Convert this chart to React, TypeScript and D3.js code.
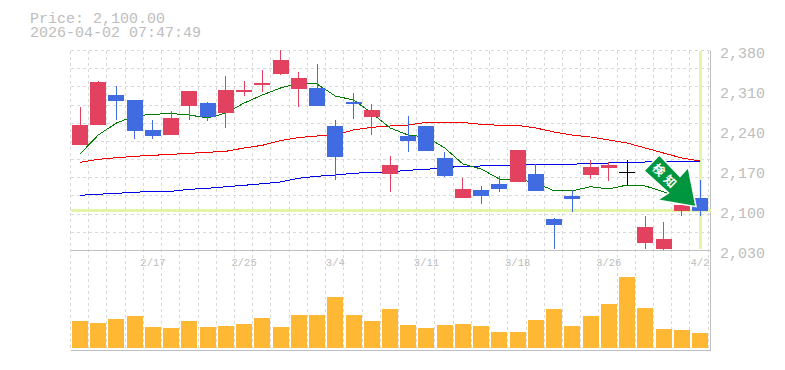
import React from "react";
import * as d3 from "d3";

const priceTicks = [2380, 2310, 2240, 2170, 2100, 2030];
const dateLabels: [number, string][] = [[4, "2/17"], [9, "2/25"], [14, "3/4"], [19, "3/11"], [24, "3/18"], [29, "3/26"], [34, "4/2"]];

const opens = [2214.6, 2249.6, 2302.1, 2293.4, 2240.9, 2232.1, 2282.9, 2288.1, 2270.6, 2307.4, 2319.6, 2338.9, 2312.6, 2314.4, 2247.9, 2289.9, 2263.6, 2163.9, 2230.4, 2247.9, 2191.9, 2121.9, 2135.9, 2146.4, 2149.9, 2163.9, 2085.1, 2125.4, 2162.1, 2174.4, 2167, 2043.1, 2032.6, 2099.1, 2121.9];
const closes = [2249.6, 2324.9, 2291.6, 2239.1, 2230.4, 2261.9, 2309.1, 2263.6, 2310.9, 2310.9, 2323.1, 2363.4, 2331.9, 2282.9, 2194.2, 2286.4, 2275.9, 2179.6, 2221.6, 2204.1, 2160.4, 2137.6, 2125.4, 2137.6, 2205.9, 2134.1, 2074.6, 2120.1, 2176.1, 2179.6, 2167, 2071.1, 2050.1, 2109.6, 2099.1];
const highs = [2281.1, 2326.6, 2317.9, 2293.4, 2258.4, 2274.1, 2309.1, 2289.9, 2335.4, 2326.6, 2345.9, 2380.9, 2342.4, 2356.4, 2258.4, 2305.6, 2286.4, 2195.4, 2265.4, 2247.9, 2202.4, 2156.9, 2142.9, 2160.4, 2205.9, 2181.4, 2086.9, 2135.9, 2188.4, 2184.9, 2188.4, 2090.4, 2079.9, 2109.6, 2153.4];
const lows = [2214.6, 2249.6, 2258.4, 2225.1, 2225.1, 2232.1, 2258.4, 2257.5, 2244.4, 2300.4, 2307.4, 2337.1, 2281.6, 2282.9, 2153.4, 2260.1, 2232.1, 2132.4, 2202.9, 2204.1, 2158.6, 2121.9, 2111.4, 2132.4, 2149.9, 2134.1, 2032.6, 2097.4, 2155.1, 2151.6, 2144.6, 2032.6, 2030.9, 2090.9, 2090.9];

const ma5 = [2198.9, 2232.1, 2253.1, 2265.4, 2268.3, 2269.8, 2267.1, 2261.9, 2270.6, 2288.1, 2302.1, 2314.4, 2323.1, 2321.4, 2300.4, 2293.4, 2270.6, 2244.4, 2232.1, 2228.6, 2209.4, 2181.4, 2172.6, 2155.1, 2155.1, 2148.1, 2134.6, 2134.6, 2141.6, 2137.6, 2144.6, 2142.9, 2132.9, 2118.4, 2107.9];
const ma25 = [2184.4, 2189.6, 2192.4, 2194.8, 2196.6, 2198.3, 2200.1, 2201.9, 2203.6, 2209.4, 2214.1, 2222.2, 2227.8, 2230.4, 2232.1, 2240.9, 2245.6, 2247.9, 2249.6, 2254.4, 2254.4, 2254, 2250.9, 2249.1, 2249.1, 2244.4, 2237.4, 2232.1, 2228.6, 2223.4, 2218.1, 2209.4, 2200.6, 2191.9, 2186.6];
const ma75 = [2126.6, 2128.4, 2130.1, 2131.9, 2133.6, 2133.6, 2137.1, 2138.9, 2141.6, 2144.1, 2146.9, 2149.9, 2156.4, 2159.9, 2162.1, 2165.1, 2166.9, 2167.4, 2170.4, 2172.1, 2174.9, 2177.4, 2177.9, 2177.9, 2180.2, 2180.9, 2180.9, 2180.9, 2182.6, 2183.1, 2183.6, 2184.9, 2184.9, 2185.8, 2186.6];
const volumes = [27, 25, 29, 32, 21, 20, 27, 21, 22, 24, 30, 21, 33, 33, 51, 33, 27, 39, 23, 20, 23, 24, 22, 16, 16, 28, 39, 22, 32, 44, 71, 40, 19, 18, 15];
const lastPrice = 2100;

const COLORS = { up: "#e2425f", down: "#416be0", doji: "#000", grid: "#d9d9d9", axis: "#c0c0c0", text: "#bdbdbd", band: "#e3f5a6", vol: "#ffb833" };
const MONO = "'Liberation Mono', monospace";

const L = 70.5, R = 710.5, TOP = 50.5, MID = 250.5, BOT = 350.5;
const x = d3.scaleLinear().domain([0, 34]).range([80, 700]);
const y = d3.scaleLinear().domain([2030, 2380]).range([MID, TOP]);
const v = d3.scaleLinear().domain([0, 71]).range([348, 277]);
const line = d3.line<number>().x((_, i) => x(i)).y((d) => y(d));
const vGrid = d3.range(36).map((i) => L + i * 18.22);
const hGrid = d3.range(11).map((i) => TOP + i * (200 / 11));
const bw = 16;

export default function App() {
  return (
    <svg width={785} height={370} style={{ position: "absolute", left: 0, top: 0, background: "#fff" }}>
      <g fontFamily={MONO} fontSize={15} fill={COLORS.text}>
        <text x={30} y={23}>Price: 2,100.00</text>
        <text x={30} y={37}>2026-04-02 07:47:49</text>
      </g>
      <g shapeRendering="crispEdges">
        {hGrid.map((g, i) => (
          <line key={i} x1={L} x2={R} y1={g} y2={g} stroke={COLORS.grid} strokeDasharray="3 3" />
        ))}
        {vGrid.map((g, i) => (
          <line key={i} x1={g} x2={g} y1={TOP} y2={BOT} stroke={COLORS.grid} strokeDasharray="3 3" />
        ))}
        <line x1={L} x2={R} y1={MID} y2={MID} stroke={COLORS.axis} />
        <line x1={L} x2={R} y1={BOT} y2={BOT} stroke={COLORS.axis} />
        <line x1={R} x2={R} y1={TOP} y2={BOT} stroke={COLORS.axis} />
        <rect x={L} y={y(lastPrice) - 1.5} width={R - L} height={3} fill={COLORS.band} />
        <rect x={x(34) - 1} y={TOP} width={3} height={MID - TOP - 2} fill={COLORS.band} />
        <path d={line(ma75) ?? ""} fill="none" stroke="#0000e6" strokeWidth={1} />
        <path d={line(ma25) ?? ""} fill="none" stroke="#f00000" strokeWidth={1} />
        <path d={line(ma5) ?? ""} fill="none" stroke="#007a00" strokeWidth={1} />
        {opens.map((o, i) => {
          const c = closes[i];
          const col = c > o ? COLORS.up : c < o ? COLORS.down : COLORS.doji;
          const top = y(Math.max(o, c));
          const h = Math.abs(y(o) - y(c));
          return (
            <g key={i}>
              <line x1={x(i)} x2={x(i)} y1={y(highs[i])} y2={y(lows[i])} stroke={col} strokeWidth={1} />
              <rect x={x(i) - bw / 2} y={top} width={bw} height={Math.max(h, 1)} fill={col} />
            </g>
          );
        })}
        {volumes.map((d, i) => (
          <rect key={i} x={x(i) - bw / 2} y={v(d)} width={bw} height={v(0) - v(d)} fill={COLORS.vol} />
        ))}
      </g>
      <g fontFamily={MONO} fontSize={15} fill={COLORS.text}>
        {priceTicks.map((t) => (
          <text key={t} x={720} y={y(t) + 7}>{d3.format(",")(t)}</text>
        ))}
      </g>
      <g fontFamily={MONO} fontSize={10.5} fill={COLORS.text} textAnchor="middle">
        {dateLabels.map(([i, s]) => (
          <text key={s} x={x(i)} y={266}>{s}</text>
        ))}
      </g>
      <g>
        <path d="M659.3 155 L644 170.7 L668.5 193 L657.3 200 L696 206.7 L688.3 167.3 L680 176.5 Z" fill="#009640" stroke="#fff" strokeWidth={1.5} />
        <text transform="translate(666 177) rotate(45)" textAnchor="middle" fontFamily="'Noto Sans CJK JP'" fontWeight={700} fontSize={12} letterSpacing={4} fill="#fff" y={4.5}>検知</text>
      </g>
    </svg>
  );
}
